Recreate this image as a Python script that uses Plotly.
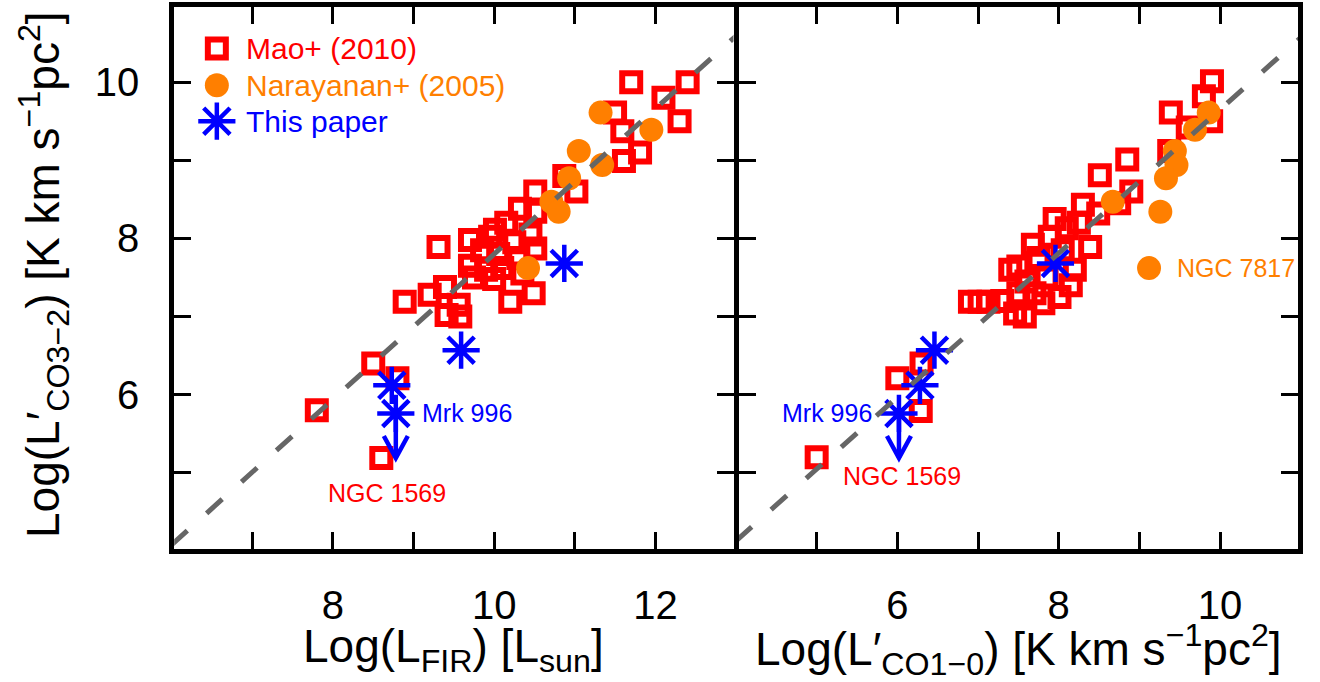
import plotly.graph_objects as go

# ---------------- data ----------------
# Mao+ (2010): left panel  (log L_FIR, log L'CO3-2)
mao_lfir = [11.70, 12.40, 12.10, 12.30, 11.50, 11.59, 11.81, 11.61, 10.87, 11.02,
            10.51, 10.32, 10.51, 10.01, 9.70, 9.31, 10.51, 10.49, 10.20, 8.89,
            9.20, 9.39, 9.56, 9.41, 9.58, 9.85, 10.05, 10.25, 9.70, 9.90,
            10.10, 10.30, 9.75, 10.00, 10.35, 10.45, 9.95, 10.15, 7.80, 8.50,
            8.80, 8.60]
mao_lfir_co32 = [10.00, 10.00, 9.80, 9.50, 9.61, 9.37, 9.10, 8.99, 8.80, 8.60,
                 8.60, 8.38, 8.34, 8.11, 7.98, 7.89, 7.87, 7.30, 7.19, 7.19,
                 7.28, 7.38, 7.15, 7.02, 7.00, 7.85, 7.80, 7.95, 7.65, 7.60,
                 7.62, 7.75, 7.50, 7.48, 7.55, 8.05, 8.02, 8.20, 5.80, 6.40,
                 6.21, 5.19]

# Mao+ (2010): right panel (log L'CO1-0, log L'CO3-2)
mao_co10 = [9.90, 9.80, 9.89, 9.39, 9.60, 9.37, 8.85, 8.51, 8.90, 8.30,
            8.49, 8.75, 8.10, 7.89, 7.68, 8.39, 8.20, 7.50, 8.01, 7.81,
            7.46, 6.90, 7.02, 7.13, 7.75, 8.05, 7.60, 7.85, 8.15, 7.70,
            7.30, 7.50, 7.95, 8.25, 7.40, 7.58, 6.29, 6.00, 6.30, 5.00]
mao_co10_co32 = [10.01, 9.82, 9.50, 9.61, 9.42, 9.12, 9.01, 8.81, 8.60, 8.43,
                 8.32, 8.45, 8.13, 8.02, 7.92, 7.89, 7.60, 7.64, 7.25, 7.17,
                 7.04, 7.19, 7.19, 7.19, 7.75, 7.85, 7.45, 7.50, 7.40, 7.30,
                 7.20, 7.30, 8.25, 8.20, 7.60, 7.00, 5.79, 6.21, 6.40, 5.20]

# Narayanan+ (2005)
nar_lfir = [11.32, 11.95, 11.05, 11.34, 10.93, 10.71, 10.80, 10.42]
nar_co10 = [9.86, 9.69, 9.44, 9.46, 9.33, 8.67, 9.26, 9.12]
nar_co32 = [9.61, 9.39, 9.12, 8.94, 8.77, 8.47, 8.34, 7.62]

# This paper
tp_lfir = [10.87, 9.59, 8.73, 8.78]
tp_co10 = [7.96, 6.46, 6.28, 6.02]
tp_co32 = [7.68, 6.57, 6.12, 5.76]
tp_upper_limit = [False, False, False, True]   # Mrk 996 is an upper limit
tp_limit_to = [None, None, None, 5.19]

# Dashed relations: y = slope * x + intercept
fit_left = (0.93, -1.50)
fit_right = (0.92, 0.45)

# Axes
x_left_range = [6, 13]
x_right_range = [4, 11]
y_range = [4, 11]
x_left_tickvals = [7, 8, 9, 10, 11, 12]
x_left_ticktext = ["", "8", "", "10", "", "12"]
x_right_tickvals = [5, 6, 7, 8, 9, 10]
x_right_ticktext = ["", "6", "", "8", "", "10"]
y_tickvals = [5, 6, 7, 8, 9, 10]
y_ticktext = ["", "6", "", "8", "", "10"]

# Labels of named objects
labels_left = [("Mrk 996", 9.08, 5.77, "left", "blue"),
               ("NGC 1569", 8.67, 4.74, "center", "red")]
labels_right = [("Mrk 996", 5.71, 5.77, "right", "blue"),
                ("NGC 1569", 6.06, 4.96, "center", "red"),
                ("NGC 7817", 9.44, 7.62, "left", "#FF7F00")]

legend_names = ["Mao+ (2010)", "Narayanan+ (2005)", "This paper"]

# ---------------- styles ----------------
FONT = "Liberation Sans, Arial, Helvetica, sans-serif"
RED = "#FF0000"
ORANGE = "#FF7F00"
BLUE = "#0000FF"
GRAY = "#666666"

sq = dict(symbol="square-open", size=18, color=RED, line=dict(color=RED, width=6))
ci = dict(symbol="circle", size=24, color=ORANGE, line=dict(width=0))
st = dict(symbol="asterisk-open", size=31, color=BLUE, line=dict(color=BLUE, width=4.5))

fig = go.Figure()

panels = [
    ("x", "y", mao_lfir, mao_lfir_co32, nar_lfir, tp_lfir, fit_left, x_left_range),
    ("x2", "y2", mao_co10, mao_co10_co32, nar_co10, tp_co10, fit_right, x_right_range),
]
for xa, ya, mx, my, nx, tx, fit, xr in panels:
    fig.add_trace(go.Scatter(x=mx, y=my, mode="markers", marker=sq, xaxis=xa, yaxis=ya,
                             showlegend=False, name="Mao+ (2010)"))
    fig.add_trace(go.Scatter(x=nx, y=nar_co32, mode="markers", marker=ci, xaxis=xa, yaxis=ya,
                             showlegend=False, name="Narayanan+ (2005)"))
    fig.add_trace(go.Scatter(x=tx, y=tp_co32, mode="markers", marker=st, xaxis=xa, yaxis=ya,
                             showlegend=False, name="This paper"))
    fx = [xr[0], xr[1]]
    fy = [fit[0] * v + fit[1] for v in fx]
    fig.add_trace(go.Scatter(x=fx, y=fy, mode="lines", xaxis=xa, yaxis=ya, showlegend=False,
                             line=dict(color=GRAY, width=5, dash="21px,26px"),
                             hoverinfo="skip"))
    # upper-limit arrows
    for x0, y0, up, yl in zip(tx, tp_co32, tp_upper_limit, tp_limit_to):
        if up:
            fig.add_shape(type="line", xref=xa, yref=ya, x0=x0, x1=x0, y0=y0, y1=yl,
                          line=dict(color=BLUE, width=4.5))
            fig.add_shape(type="path", xref=xa, yref=ya, xsizemode="pixel", ysizemode="pixel",
                          xanchor=x0, yanchor=yl, path="M -12,22 L 0,0 L 12,22",
                          line=dict(color=BLUE, width=4.5))

# manual legend (inside left panel)
leg_marks = [sq, ci, st]
leg_cols = [RED, ORANGE, BLUE]
leg_y = [10.43, 9.96, 9.50]
for name, mk, col, yy in zip(legend_names, leg_marks, leg_cols, leg_y):
    fig.add_trace(go.Scatter(x=[6.56], y=[yy], mode="markers", marker=mk, xaxis="x", yaxis="y",
                             showlegend=False, hoverinfo="skip"))
    fig.add_annotation(x=6.90, y=yy, xref="x", yref="y", text=name, showarrow=False,
                       xanchor="left", yanchor="middle", font=dict(family=FONT, size=30, color=col))

for txt, x, y, anc, col in labels_left:
    fig.add_annotation(x=x, y=y, xref="x", yref="y", text=txt, showarrow=False, xanchor=anc,
                       yanchor="middle", font=dict(family=FONT, size=25, color=col))
for txt, x, y, anc, col in labels_right:
    fig.add_annotation(x=x, y=y, xref="x2", yref="y2", text=txt, showarrow=False, xanchor=anc,
                       yanchor="middle", font=dict(family=FONT, size=25, color=col))

# ---------------- layout ----------------
W, H = 1320, 682
LW = 5                      # frame line width; plotly draws it outside the plot area
h = LW / 2
px_left, px_mid, px_right = 171.7, 736.0, 1300.7     # frame line centres (pixels)
py_top, py_bot = 4.0, 551.0

def inset(rng, p0, p1):
    per = (rng[1] - rng[0]) / (p1 - p0)
    return [rng[0] + h * per, rng[1] - h * per]

xl_dom = [(px_left + h) / W, (px_mid - h) / W]
xr_dom = [(px_mid + h) / W, (px_right - h) / W]
y_dom = [1 - (py_bot - h) / H, 1 - (py_top + h) / H]

axis_common = dict(showline=True, linewidth=LW, linecolor="black", mirror="ticks",
                   ticks="inside", ticklen=17, tickwidth=3, tickcolor="black",
                   showgrid=False, zeroline=False,
                   tickfont=dict(family=FONT, size=40, color="black"))

fig.update_layout(
    width=W, height=H, margin=dict(l=0, r=0, t=0, b=0),
    paper_bgcolor="white", plot_bgcolor="white",
    font=dict(family=FONT, color="black"),
    xaxis=dict(domain=xl_dom, range=inset(x_left_range, px_left, px_mid),
               tickvals=x_left_tickvals, ticktext=x_left_ticktext, anchor="y",
               ticklabelstandoff=17, **axis_common),
    xaxis2=dict(domain=xr_dom, range=inset(x_right_range, px_mid, px_right),
                tickvals=x_right_tickvals, ticktext=x_right_ticktext, anchor="y2",
                ticklabelstandoff=17, **axis_common),
    yaxis=dict(domain=y_dom, range=inset(y_range, py_top, py_bot), tickvals=y_tickvals,
               ticktext=y_ticktext, anchor="x", ticklabelstandoff=22, **axis_common),
    yaxis2=dict(domain=y_dom, range=inset(y_range, py_top, py_bot), tickvals=y_tickvals,
                ticktext=y_ticktext, anchor="x2", showticklabels=False, **axis_common),
)

# axis titles
fig.add_annotation(x=(px_left + px_mid) / 2 / W, y=1 - 649 / H, xref="paper", yref="paper",
                   text="Log(L<sub>FIR</sub>) [L<sub>sun</sub>]", showarrow=False,
                   xanchor="center", yanchor="middle", font=dict(family=FONT, size=46))
fig.add_annotation(x=(px_mid + px_right) / 2 / W, y=1 - 649 / H, xref="paper", yref="paper",
                   text="Log(L′<sub>CO1−0</sub>) [K km s<sup>−1</sup>pc<sup>2</sup>]",
                   showarrow=False, xanchor="center", yanchor="middle",
                   font=dict(family=FONT, size=46))
fig.add_annotation(x=43 / W, y=1 - 275 / H, xref="paper", yref="paper",
                   text="Log(L′<sub>CO3−2</sub>) [K km s<sup>−1</sup>pc<sup>2</sup>]",
                   showarrow=False, textangle=-90, xanchor="center", yanchor="middle",
                   font=dict(family=FONT, size=46))

fig.write_html("out.html", config={"displayModeBar": False},
               post_script="document.body.style.margin='0px';")
